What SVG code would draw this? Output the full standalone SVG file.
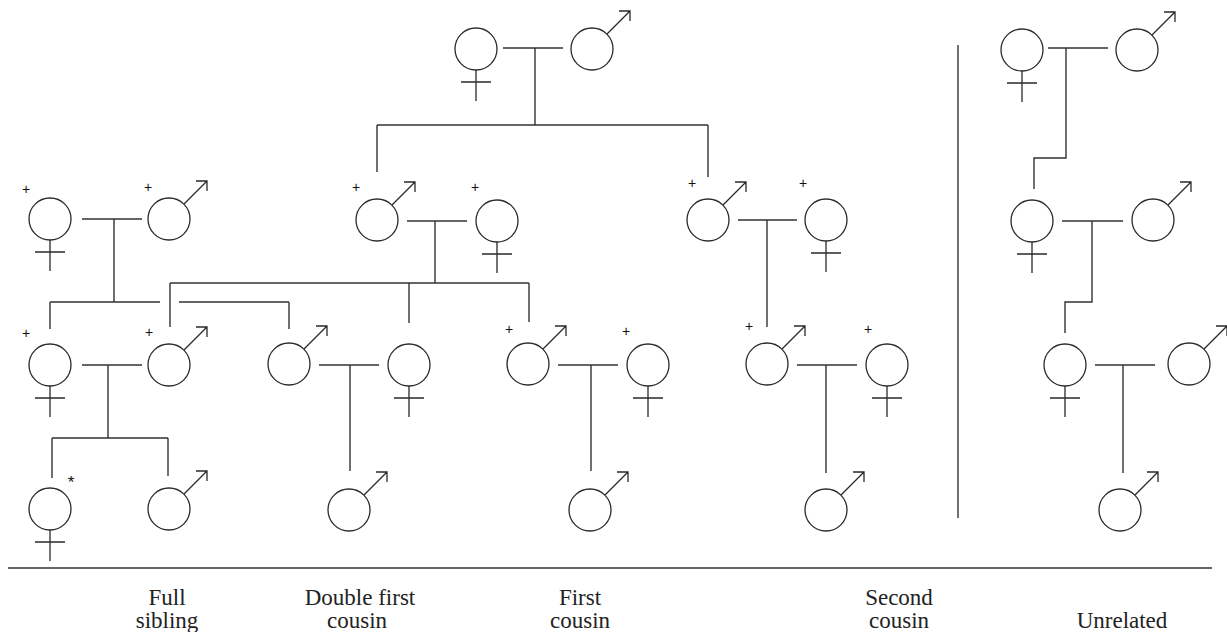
<svg xmlns="http://www.w3.org/2000/svg" xmlns:xlink="http://www.w3.org/1999/xlink" width="1227" height="632" viewBox="0 0 1227 632">
<style>
.sym circle, .sym path { fill: none; stroke: #2a2a2a; stroke-width: 1.3; }
.con path { fill: none; stroke: #333; stroke-width: 1.4; }
.mark { font-family: "Liberation Sans", Arial, sans-serif; font-size: 14px; fill: #111; text-anchor: middle; }
.star { font-family: "Liberation Sans", Arial, sans-serif; font-size: 17px; fill: #111; text-anchor: middle; }
.lbl { font-family: "Liberation Serif", "Times New Roman", serif; font-size: 23px; fill: #222; text-anchor: middle; }
</style>
<defs>
<g id="m" class="sym"><circle r="21"/><path d="M15,-15 L38,-38 M27,-38 H38 V-28"/></g>
<g id="f" class="sym"><circle r="21"/><path d="M0,21 V52 M-15,33 H15"/></g>
</defs>
<rect width="1227" height="632" fill="#fff"/>
<g id="connectors" class="con">
<path d="M503,48 H563 M535,48 V125 M377,125 H708 M377,125 V172 M708,125 V177"/>
<path d="M82,219 H142 M114,219 V302 M50,302 H160 M179,302 H289 M50,302 V329 M289,302 V329"/>
<path d="M407,221 H467 M435,221 V283 M170,283 H529 M170,283 V327 M409,283 V323 M529,283 V322"/>
<path d="M738,220 H797 M767,220 V327"/>
<path d="M82,365 H142 M108,365 V438 M52,438 H168 M52,438 V478 M168,438 V476"/>
<path d="M319,365 H379 M350,365 V471"/>
<path d="M558,365 H618 M591,365 V471"/>
<path d="M797,365 H857 M826,365 V473"/>
<path d="M1048,48 H1108 M1066,48 V158 H1034 V189"/>
<path d="M1062,221 H1123 M1092,221 V302 H1065 V333"/>
<path d="M1095,365 H1155 M1123,365 V473"/>
<path d="M958,45 V518"/>
<path d="M8,568 H1212"/>
</g>
<g id="top-f"><use xlink:href="#f" x="476" y="49"/></g>
<g id="top-m"><use xlink:href="#m" x="592" y="49"/></g>
<g id="r2-f1"><use xlink:href="#f" x="50" y="219"/><text class="mark" x="26" y="194">+</text></g>
<g id="r2-m1"><use xlink:href="#m" x="169" y="219"/><text class="mark" x="148" y="192">+</text></g>
<g id="r2-m2"><use xlink:href="#m" x="377" y="220"/><text class="mark" x="356" y="192">+</text></g>
<g id="r2-f2"><use xlink:href="#f" x="497" y="221"/><text class="mark" x="475" y="192">+</text></g>
<g id="r2-m3"><use xlink:href="#m" x="708" y="220"/><text class="mark" x="692" y="188">+</text></g>
<g id="r2-f3"><use xlink:href="#f" x="826" y="220"/><text class="mark" x="803" y="188">+</text></g>
<g id="r3-f1"><use xlink:href="#f" x="50" y="365"/><text class="mark" x="26" y="338">+</text></g>
<g id="r3-m1"><use xlink:href="#m" x="169" y="365"/><text class="mark" x="149" y="337">+</text></g>
<g id="r3-m2"><use xlink:href="#m" x="289" y="364"/></g>
<g id="r3-f2"><use xlink:href="#f" x="409" y="365"/></g>
<g id="r3-m3"><use xlink:href="#m" x="528" y="364"/><text class="mark" x="509" y="334">+</text></g>
<g id="r3-f3"><use xlink:href="#f" x="648" y="365"/><text class="mark" x="626" y="336">+</text></g>
<g id="r3-m4"><use xlink:href="#m" x="767" y="364"/><text class="mark" x="749" y="331">+</text></g>
<g id="r3-f4"><use xlink:href="#f" x="887" y="365"/><text class="mark" x="868" y="334">+</text></g>
<g id="r4-f1"><use xlink:href="#f" x="50" y="509"/><text class="star" x="71" y="488">*</text></g>
<g id="r4-m1"><use xlink:href="#m" x="169" y="509"/></g>
<g id="r4-m2"><use xlink:href="#m" x="349" y="510"/></g>
<g id="r4-m3"><use xlink:href="#m" x="590" y="510"/></g>
<g id="r4-m4"><use xlink:href="#m" x="826" y="510"/></g>
<g id="u-f1"><use xlink:href="#f" x="1022" y="50"/></g>
<g id="u-m1"><use xlink:href="#m" x="1137" y="50"/></g>
<g id="u-f2"><use xlink:href="#f" x="1032" y="221"/></g>
<g id="u-m2"><use xlink:href="#m" x="1153" y="220"/></g>
<g id="u-f3"><use xlink:href="#f" x="1065" y="365"/></g>
<g id="u-m3"><use xlink:href="#m" x="1189" y="364"/></g>
<g id="u-m4"><use xlink:href="#m" x="1120" y="510"/></g>
<g id="labels">
<text class="lbl" x="167" y="605">Full</text>
<text class="lbl" x="167" y="628">sibling</text>
<text class="lbl" x="360" y="605">Double first</text>
<text class="lbl" x="357" y="628">cousin</text>
<text class="lbl" x="580" y="605">First</text>
<text class="lbl" x="580" y="628">cousin</text>
<text class="lbl" x="899" y="605">Second</text>
<text class="lbl" x="899" y="628">cousin</text>
<text class="lbl" x="1122" y="628">Unrelated</text>
</g>
</svg>
